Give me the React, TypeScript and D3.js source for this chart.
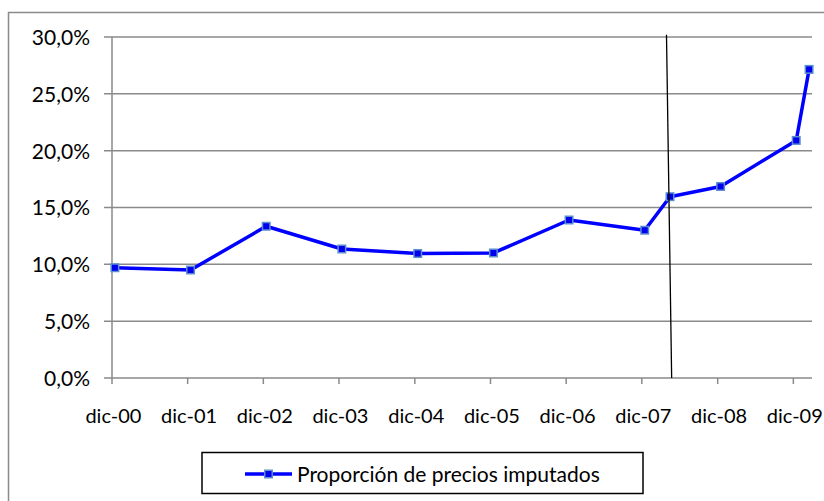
import React from "react";
import * as d3 from "d3";

const dates = [
  "2000-12-15", "2001-12-15", "2002-12-15", "2003-12-15", "2004-12-15",
  "2005-12-15", "2006-12-15", "2007-12-15", "2008-04-15", "2008-12-15",
  "2009-12-15", "2010-02-15",
];
const values = [9.7, 9.5, 13.35, 11.35, 10.95, 11.0, 13.9, 13.0, 15.95, 16.85, 20.9, 27.15];
const tickYears = [2000, 2001, 2002, 2003, 2004, 2005, 2006, 2007, 2008, 2009];
const yTicks = [0, 5, 10, 15, 20, 25, 30];
const seriesName = "Proporción de precios imputados";
// annotation vertical line (date, value) endpoints
const annotation = { top: ["2008-03-29", 30.2], bottom: ["2008-04-23", 0] } as const;

const W = 824, H = 501;
const M = { left: 112, top: 37, right: 812, bottom: 378 };
const FONT = "Lato, 'Open Sans', sans-serif";
const GRID = "#8a8a8a";

const parse = (s: string) => new Date(s + "T00:00:00");

export default function App() {
  const x = d3.scaleTime()
    .domain([parse("2000-12-01"), parse("2010-03-01")])
    .range([M.left, M.right]);
  const y = d3.scaleLinear().domain([0, 30]).range([M.bottom, M.top]);
  const pts = dates.map((d, i) => ({ d: parse(d), v: values[i] }));
  const line = d3.line<{ d: Date; v: number }>().x(p => x(p.d)).y(p => y(p.v));
  const fmtY = (v: number) => v.toFixed(1).replace(".", ",") + "%";
  const fmtX = (yr: number) => "dic-" + String(yr % 100).padStart(2, "0");
  const ms = 7.5;

  return (
    <svg width={W} height={H} style={{ position: "fixed", left: 0, top: 0, background: "#fff" }} fontFamily={FONT}>
      <rect x={8.5} y={12.5} width={W + 10} height={H + 10} fill="#fff" stroke={GRID} strokeWidth={1.5} />
      {yTicks.map(t => (
        <g key={t}>
          <line x1={M.left - 8} x2={M.right} y1={y(t)} y2={y(t)} stroke={GRID} strokeWidth={1.5} />
          <text x={90} y={y(t)} dy="0.38em" textAnchor="end" fontSize={21} fill="#000">{fmtY(t)}</text>
        </g>
      ))}
      <line x1={M.left} x2={M.left} y1={M.top} y2={M.bottom} stroke={GRID} strokeWidth={1.5} />
      {tickYears.map(yr => {
        const tx = x(parse(`${yr}-12-01`));
        const lx = x(parse(`${yr}-12-08`));
        return (
          <g key={yr}>
            <line x1={tx} x2={tx} y1={M.bottom} y2={M.bottom + 6} stroke={GRID} strokeWidth={1.5} />
            <text x={lx} y={423} textAnchor="middle" fontSize={20} fill="#000">{fmtX(yr)}</text>
          </g>
        );
      })}
      <path d={line(pts) || ""} fill="none" stroke="#0000ff" strokeWidth={3.5} strokeLinejoin="round" />
      {pts.map((p, i) => (
        <rect key={i} x={x(p.d) - ms / 2} y={y(p.v) - ms / 2} width={ms} height={ms}
          fill="#0000ee" stroke="#5b8fd0" strokeWidth={1.5} />
      ))}
      <line
        x1={x(parse(annotation.top[0]))} y1={y(annotation.top[1])}
        x2={x(parse(annotation.bottom[0]))} y2={y(annotation.bottom[1])}
        stroke="#000" strokeWidth={1.3} />
      <g>
        <rect x={202} y={452.5} width={441} height={41} fill="#fff" stroke="#000" strokeWidth={1.5} />
        <line x1={245} x2={292} y1={474} y2={474} stroke="#0000ff" strokeWidth={3.5} />
        <rect x={268.5 - ms / 2} y={474 - ms / 2} width={ms} height={ms} fill="#0000ee" stroke="#5b8fd0" strokeWidth={1.5} />
        <text x={297} y={474} dy="0.36em" fontSize={21} fill="#000">{seriesName}</text>
      </g>
    </svg>
  );
}
